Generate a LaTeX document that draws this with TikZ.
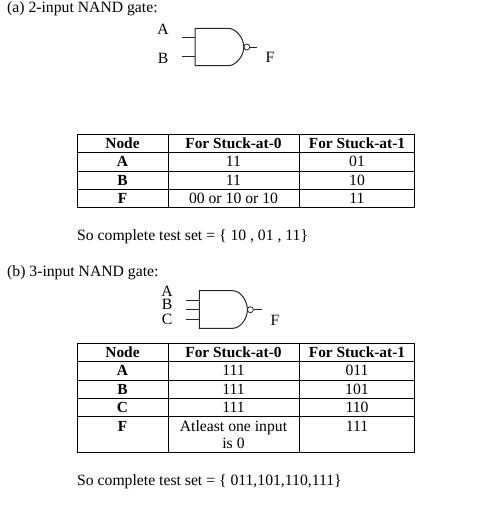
\documentclass[tikz,border=0pt]{standalone}
\usepackage{fontspec}
\setmainfont{Liberation Serif}
\tikzset{
  txt/.style={inner sep=0pt,anchor=base west,font=\fontsize{15.7}{18}\selectfont},
  cell/.style={inner sep=0pt,anchor=base,font=\fontsize{15.7}{18}\selectfont},
  hcell/.style={cell,font=\fontsize{15.4}{18}\selectfont\bfseries},
  rule/.style={line width=0.95pt,black},
  wire/.style={line width=1pt,black!85},
  bubble/.style={circle,draw,line width=0.8pt,black!85,inner sep=0pt,minimum size=6pt}
}
\begin{document}
\begin{tikzpicture}[x=1pt,y=-1pt]
\useasboundingbox (0,0) rectangle (479,507);
\fill[white] (0,0) rectangle (479,507);
\node[txt] (ta) at (7,12.5) {(a) 2-input NAND gate:};
\node[cell] (la) at (163,34.5) {A};
\node[cell] (lb) at (163,63) {B};
\node[cell] (lf) at (270,62.5) {F};
% gate 1
\coordinate (g1a) at (195,37.7);
\coordinate (g1b) at (195,56.7);
\coordinate (g1ai) at (182,37.7);
\coordinate (g1bi) at (182,56.7);
\node[bubble] (b1) at (246.8,47) {};
\coordinate (g1o) at (257,47);
\draw[wire] (195,28.3) -- (228,28.3) .. controls (236,28.3) and (243.8,38) .. (243.8,47) .. controls (243.8,56) and (236,65.7) .. (228,65.7) -- (195,65.7) -- cycle;
\draw[wire] (g1ai) -- (g1a);
\draw[wire] (g1bi) -- (g1b);
\draw[wire] (b1) -- (g1o);
% table 1
\draw[rule] (77.3,134.5) rectangle (414.5,207);
\foreach \y in {152.5,171,189} \draw[rule] (77.3,\y) -- (414.5,\y);
\foreach \x in {168.3,299} \draw[rule] (\x,134.5) -- (\x,207);
\node[hcell] (h1) at (122.5,148) {Node};
\node[hcell] (h2) at (233.5,148) {For Stuck-at-0};
\node[hcell] (h3) at (357,148) {For Stuck-at-1};
\node[hcell] (n1) at (122.5,166) {A};
\node[cell] (c11) at (233.5,166) {11};
\node[cell] (c12) at (357,166) {01};
\node[hcell] (n2) at (122.5,185) {B};
\node[cell] (c21) at (233.5,185) {11};
\node[cell] (c22) at (357,185) {10};
\node[hcell] (n3) at (122.5,203) {F};
\node[cell] (c31) at (233.5,203) {00 or 10 or 10};
\node[cell] (c32) at (357,203) {11};
\node[txt] (s1) at (77,240) {So complete test set = \{ 10 , 01 , 11\}};
\node[txt] (tb) at (7,276) {(b) 3-input NAND gate:};
\node[cell] (la2) at (167,296) {A};
\node[cell] (lb2) at (167,309.5) {B};
\node[cell] (lc2) at (167,324) {C};
\node[cell] (lf2) at (275,325) {F};
% gate 2
\coordinate (g2a) at (199.3,300);
\coordinate (g2b) at (199.3,309.3);
\coordinate (g2c) at (199.3,319);
\coordinate (g2ai) at (186,300);
\coordinate (g2bi) at (186,309.3);
\coordinate (g2ci) at (186,319);
\node[bubble] (b2) at (250.4,309.7) {};
\coordinate (g2o) at (261.7,309.7);
\draw[wire] (199.3,290.7) -- (232.7,290.7) .. controls (240.5,290.7) and (247.4,300.7) .. (247.4,309.7) .. controls (247.4,318.7) and (240.5,328.3) .. (232.7,328.3) -- (199.3,328.3) -- cycle;
\draw[wire] (g2ai) -- (g2a);
\draw[wire] (g2bi) -- (g2b);
\draw[wire] (g2ci) -- (g2c);
\draw[wire] (b2) -- (g2o);
% table 2
\draw[rule] (77.3,343) rectangle (414.5,452);
\foreach \y in {361.5,380,398,416} \draw[rule] (77.3,\y) -- (414.5,\y);
\foreach \x in {168.3,299} \draw[rule] (\x,343) -- (\x,452);
\node[hcell] (k1) at (122.5,357) {Node};
\node[hcell] (k2) at (233.5,357) {For Stuck-at-0};
\node[hcell] (k3) at (357,357) {For Stuck-at-1};
\node[hcell] (m1) at (122.5,375) {A};
\node[cell] (d11) at (233.5,375) {111};
\node[cell] (d12) at (357,375) {011};
\node[hcell] (m2) at (122.5,394) {B};
\node[cell] (d21) at (233.5,394) {111};
\node[cell] (d22) at (357,394) {101};
\node[hcell] (m3) at (122.5,412) {C};
\node[cell] (d31) at (233.5,412) {111};
\node[cell] (d32) at (357,412) {110};
\node[hcell] (m4) at (122.5,431) {F};
\node[cell] (d41) at (233.5,431) {Atleast one input};
\node[cell] (d42) at (357,431) {111};
\node[cell] (d43) at (233.5,448) {is 0};
\node[txt] (s2) at (77,485) {So complete test set = \{ 011,101,110,111\}};
\end{tikzpicture}
\end{document}
